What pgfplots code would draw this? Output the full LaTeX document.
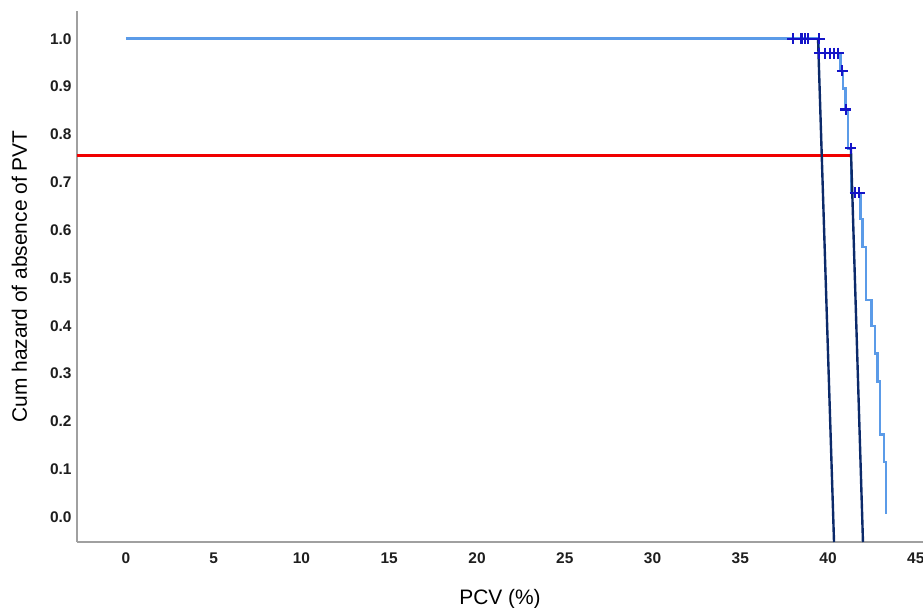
\documentclass[border=0pt]{standalone}
\usepackage{pgfplots}
\pgfplotsset{compat=1.18}
\usepackage{fontspec}
\setmainfont{Liberation Sans}
\definecolor{kmblue}{RGB}{91,155,232}
\definecolor{navy}{RGB}{12,42,106}
\definecolor{cens}{RGB}{20,20,200}
\definecolor{axgrey}{RGB}{160,160,160}
\definecolor{tickc}{RGB}{30,30,30}
\definecolor{refred}{RGB}{240,0,0}
\begin{document}
\begin{tikzpicture}
\begin{axis}[
  name=ax,
  scale only axis,
  width=846bp, height=531bp,
  xmin=-2.79, xmax=45.41,
  ymin=-0.052, ymax=1.058,
  separate axis lines,
  axis x line*=bottom, axis y line*=left,
  every outer x axis line/.append style={draw=axgrey, line width=2.6pt, -},
  every outer y axis line/.append style={draw=axgrey, line width=2.6pt, -},
  xtick={0,5,...,45},
  ytick={0,0.1,...,1.0},
  major tick length=0pt,
  /pgf/number format/assume math mode=true,
  yticklabel style={/pgf/number format/fixed, /pgf/number format/fixed zerofill, /pgf/number format/precision=1},
  ticklabel style={font=\fontsize{15.5}{18}\selectfont\bfseries, text=tickc},
  xticklabel style={yshift=-7bp},
  yticklabel style={xshift=-2bp},
  xlabel={PCV (\%)}, ylabel={Cum hazard of absence of PVT},
  label style={font=\fontsize{21}{24}\selectfont, text=black},
  xlabel style={yshift=-19bp},
  ylabel style={yshift=16bp},
  clip=false,
]
% red reference line
\addplot[draw=refred, line width=2.2pt, mark=none] coordinates {(-2.79,0.756) (41.35,0.756)};
% step curve
\addplot[const plot, draw=kmblue, line width=2.5pt, mark=none] coordinates {
(0,1.0) (39.49,0.970) (40.70,0.933) (40.85,0.896) (41.0,0.852) (41.14,0.771)
(41.30,0.678) (41.86,0.623) (41.97,0.565) (42.17,0.454) (42.48,0.399)
(42.68,0.342) (42.81,0.284) (42.96,0.173) (43.19,0.115) (43.30,0.006)};
% navy lines
\addplot[draw=navy, line width=2.4pt, mark=none] coordinates {(39.43,1.0) (40.34,-0.052)};
\addplot[draw=navy, line width=2.4pt, mark=none] coordinates {(41.30,0.773) (41.99,-0.052)};
% censor marks
\addplot[only marks, mark=+, mark size=5.5bp, mark options={draw=cens, line width=2.2pt}] coordinates {
(38.0,1.0) (38.49,1.0) (38.68,1.0) (38.87,1.0) (39.50,1.0)
(39.50,0.970) (39.83,0.970) (40.11,0.970) (40.34,0.970) (40.58,0.970)
(40.81,0.933) (41.0,0.852) (41.29,0.771) (41.54,0.678) (41.77,0.678)};
\end{axis}
\pgfresetboundingbox
\path ([shift={(-77bp,-66bp)}]ax.south west) rectangle ([shift={(0bp,11bp)}]ax.north east);
\end{tikzpicture}
\end{document}
